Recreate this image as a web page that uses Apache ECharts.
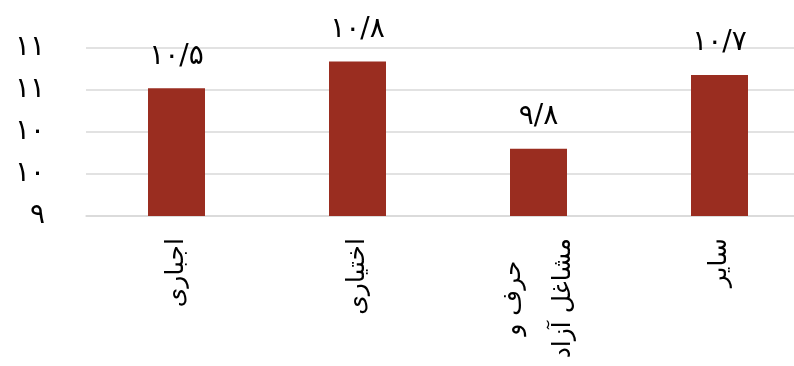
<!DOCTYPE html>
<html>
<head>
<meta charset="utf-8">
<script src="https://cdn.jsdelivr.net/npm/echarts@6/dist/echarts.min.js"></script>
<style>
html,body{margin:0;padding:0;background:#fff;}
#c{width:794px;height:366px;}
</style>
</head>
<body>
<div id="c"></div>
<script>
const categories = ['اجباری', 'اختیاری', 'حرف و\nمشاغل آزاد', 'سایر'];
const values = [10.52, 10.84, 9.80, 10.68];
const valueLabels = ['۱۰/۵', '۱۰/۸', '۹/۸', '۱۰/۷'];
const yMin = 9, yMax = 11, yStep = 0.5;

const fa = '۰۱۲۳۴۵۶۷۸۹';
function toFa(n){ return String(n).replace(/[0-9]/g, d => fa[+d]); }

const chart = echarts.init(document.getElementById('c'), null, {renderer:'canvas'});
chart.setOption({
  animation:false,
  backgroundColor:'#ffffff',
  textStyle:{fontFamily:'DejaVu Sans'},
  grid:{left:86, top:48, height:168, width:724, containLabel:false, outerBoundsMode:'none'},
  xAxis:{
    type:'category',
    data:categories,
    axisLine:{show:true, lineStyle:{color:'#d9d9d9', width:1.5}},
    axisTick:{show:false},
    axisLabel:{rotate:90, margin:22, color:'#000', interval:0,
      formatter:v => v.split('\n').map(s => '{a|' + s + '}').join('\n'),
      rich:{a:{fontSize:25, lineHeight:50, align:'center', color:'#000', fontFamily:'DejaVu Sans'}}
    }
  },
  yAxis:{
    type:'value',
    min:yMin, max:yMax, interval:yStep,
    axisLine:{show:false},
    axisTick:{show:false},
    splitLine:{lineStyle:{color:'#d9d9d9', width:1.5}},
    axisLabel:{margin:41, fontSize:28, color:'#000', fontFamily:'DejaVu Sans',
      formatter:v => toFa(Math.round(v))}
  },
  series:[{
    type:'bar',
    data:values,
    barWidth:57,
    itemStyle:{color:'#9a2d20'},
    label:{show:true, position:'top', distance:18, fontSize:28, color:'#000', fontFamily:'DejaVu Sans',
      formatter:p => valueLabels[p.dataIndex]}
  }]
});
</script>
</body>
</html>
